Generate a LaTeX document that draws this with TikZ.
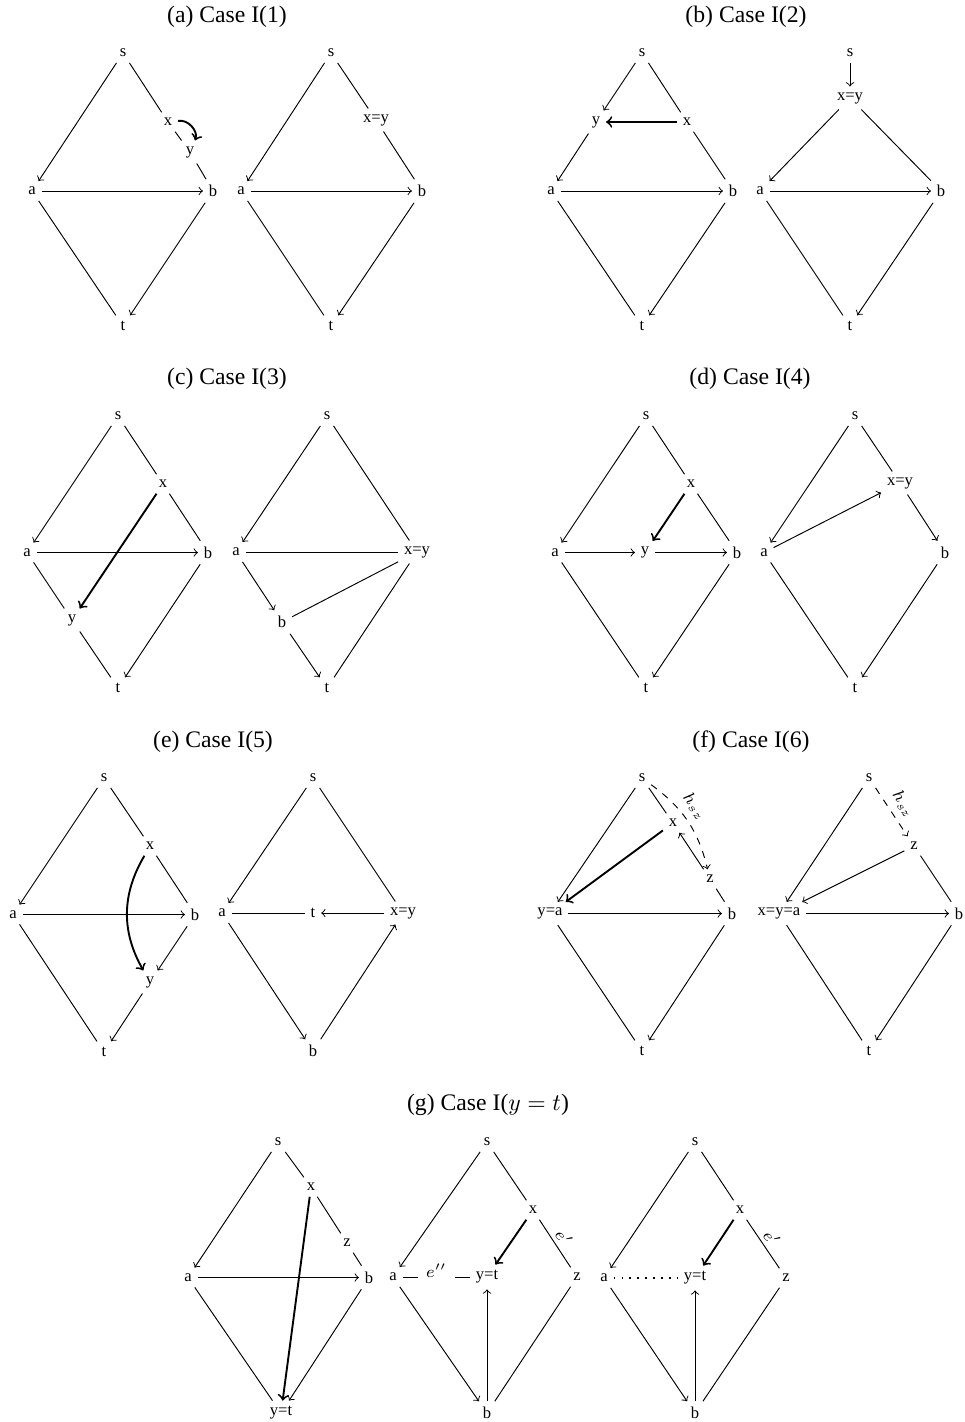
\documentclass[tikz,border=0pt]{standalone}
\usepackage{fontspec}
\setmainfont{Liberation Serif}
\begin{document}
\begin{tikzpicture}[x=0.4219pt,y=0.4219pt]
\tikzset{
  vtx/.style={font=\fontsize{7}{8}\selectfont, inner sep=2.3pt},
  ar/.style={->},
  tk/.style={->, thick},
  captxt/.style={font=\fontsize{10}{12}\selectfont, inner sep=0pt},
  lbl/.style={font=\fontsize{7}{8}\selectfont, inner sep=1.5pt},
}
\useasboundingbox (0,0) rectangle (964,-1422);

% captions
\node[captxt] (capa) at (227,-17) {(a) Case I(1)};
\node[captxt] (capb) at (746,-17) {(b) Case I(2)};
\node[captxt] (capc) at (227,-379) {(c) Case I(3)};
\node[captxt] (capd) at (750,-379) {(d) Case I(4)};
\node[captxt] (cape) at (213,-742) {(e) Case I(5)};
\node[captxt] (capf) at (751,-742) {(f) Case I(6)};
\node[captxt] (capg) at (488,-1105) {(g) Case I($y=t$)};

% ---------- (a) left
\node[vtx] (a1s) at (123,-53) {s};
\node[vtx] (a1x) at (168,-122) {x};
\node[vtx] (a1y) at (190,-152) {y};
\node[vtx] (a1a) at (32,-191) {a};
\node[vtx] (a1b) at (213,-191) {b};
\node[vtx] (a1t) at (123,-326) {t};
\draw[ar] (a1s) -- (a1a);
\draw (a1s) -- (a1x);
\draw (a1x) -- (a1y);
\draw (a1y) -- (a1b);
\draw[ar] (a1a) -- (a1b);
\draw (a1a) -- (a1t);
\draw[ar] (a1b) -- (a1t);
\draw[tk] (a1x) to[bend left=60] (a1y);
% ---------- (a) right
\node[vtx] (a2s) at (331,-53) {s};
\node[vtx] (a2xy) at (376,-120) {x=y};
\node[vtx] (a2a) at (241,-191) {a};
\node[vtx] (a2b) at (422,-191) {b};
\node[vtx] (a2t) at (331,-326) {t};
\draw[ar] (a2s) -- (a2a);
\draw (a2s) -- (a2xy);
\draw (a2xy) -- (a2b);
\draw[ar] (a2a) -- (a2b);
\draw (a2a) -- (a2t);
\draw[ar] (a2b) -- (a2t);

% ---------- (b) left
\node[vtx] (b1s) at (642,-53) {s};
\node[vtx] (b1y) at (596,-122) {y};
\node[vtx] (b1x) at (687,-122) {x};
\node[vtx] (b1a) at (551,-191) {a};
\node[vtx] (b1b) at (733,-191) {b};
\node[vtx] (b1t) at (642,-326) {t};
\draw[ar] (b1s) -- (b1y);
\draw (b1s) -- (b1x);
\draw[tk] (b1x) -- (b1y);
\draw[ar] (b1y) -- (b1a);
\draw (b1x) -- (b1b);
\draw[ar] (b1a) -- (b1b);
\draw (b1a) -- (b1t);
\draw[ar] (b1b) -- (b1t);
% ---------- (b) right
\node[vtx] (b2s) at (850,-53) {s};
\node[vtx] (b2xy) at (850,-98) {x=y};
\node[vtx] (b2a) at (760,-191) {a};
\node[vtx] (b2b) at (941,-191) {b};
\node[vtx] (b2t) at (850,-326) {t};
\draw[ar] (b2s) -- (b2xy);
\draw[ar] (b2xy) -- (b2a);
\draw (b2xy) -- (b2b);
\draw[ar] (b2a) -- (b2b);
\draw (b2a) -- (b2t);
\draw[ar] (b2b) -- (b2t);

% ---------- (c) left
\node[vtx] (c1s) at (118,-416) {s};
\node[vtx] (c1x) at (163,-484) {x};
\node[vtx] (c1a) at (27,-552.5) {a};
\node[vtx] (c1b) at (208,-552.5) {b};
\node[vtx] (c1y) at (72,-620) {y};
\node[vtx] (c1t) at (118,-688) {t};
\draw[ar] (c1s) -- (c1a);
\draw (c1s) -- (c1x);
\draw (c1x) -- (c1b);
\draw[ar] (c1a) -- (c1b);
\draw[tk] (c1x) -- (c1y);
\draw (c1a) -- (c1y);
\draw (c1y) -- (c1t);
\draw[ar] (c1b) -- (c1t);
% ---------- (c) right
\node[vtx] (c2s) at (327,-416) {s};
\node[vtx] (c2a) at (236,-552) {a};
\node[vtx] (c2xy) at (417,-552) {x=y};
\node[vtx] (c2b) at (282,-622) {b};
\node[vtx] (c2t) at (327,-688) {t};
\draw[ar] (c2s) -- (c2a);
\draw (c2s) -- (c2xy);
\draw (c2a) -- (c2xy);
\draw[ar] (c2a) -- (c2b);
\draw (c2b) -- (c2xy);
\draw[ar] (c2b) -- (c2t);
\draw (c2xy) -- (c2t);

% ---------- (d) left
\node[vtx] (d1s) at (646,-416) {s};
\node[vtx] (d1x) at (691,-484) {x};
\node[vtx] (d1a) at (555,-552.5) {a};
\node[vtx] (d1y) at (645,-552.5) {y};
\node[vtx] (d1b) at (737,-552.5) {b};
\node[vtx] (d1t) at (646,-688) {t};
\draw[ar] (d1s) -- (d1a);
\draw (d1s) -- (d1x);
\draw (d1x) -- (d1b);
\draw[tk] (d1x) -- (d1y);
\draw[ar] (d1a) -- (d1y);
\draw[ar] (d1y) -- (d1b);
\draw (d1a) -- (d1t);
\draw[ar] (d1b) -- (d1t);
% ---------- (d) right
\node[vtx] (d2s) at (855,-416) {s};
\node[vtx] (d2xy) at (900,-483) {x=y};
\node[vtx] (d2a) at (764,-552.5) {a};
\node[vtx] (d2b) at (945,-552.5) {b};
\node[vtx] (d2t) at (855,-688) {t};
\draw[ar] (d2s) -- (d2a);
\draw (d2s) -- (d2xy);
\draw[ar] (d2a) -- (d2xy);
\draw[ar] (d2xy) -- (d2b);
\draw (d2a) -- (d2t);
\draw[ar] (d2b) -- (d2t);

% ---------- (e) left
\node[vtx] (e1s) at (104,-778) {s};
\node[vtx] (e1x) at (150,-846) {x};
\node[vtx] (e1a) at (13,-914.5) {a};
\node[vtx] (e1b) at (195,-914.5) {b};
\node[vtx] (e1y) at (150,-982) {y};
\node[vtx] (e1t) at (104,-1052) {t};
\draw[ar] (e1s) -- (e1a);
\draw (e1s) -- (e1x);
\draw (e1x) -- (e1b);
\draw[ar] (e1a) -- (e1b);
\draw[ar] (e1b) -- (e1y);
\draw[ar] (e1y) -- (e1t);
\draw (e1a) -- (e1t);
\draw[tk] (e1x) to[bend right=30] (e1y);
% ---------- (e) right
\node[vtx] (e2s) at (313,-778) {s};
\node[vtx] (e2a) at (222,-913) {a};
\node[vtx] (e2t) at (313,-913) {t};
\node[vtx] (e2xy) at (403,-913) {x=y};
\node[vtx] (e2b) at (313,-1051) {b};
\draw[ar] (e2s) -- (e2a);
\draw (e2s) -- (e2xy);
\draw[ar] (e2xy) -- (e2t);
\draw (e2t) -- (e2a);
\draw[ar] (e2a) -- (e2b);
\draw[ar] (e2b) -- (e2xy);

% ---------- (f) left
\node[vtx] (f1s) at (642,-778) {s};
\node[vtx] (f1x) at (673,-823) {x};
\node[vtx] (f1z) at (710,-879) {z};
\node[vtx] (f1ya) at (550,-913.5) {y=a};
\node[vtx] (f1b) at (732,-913.5) {b};
\node[vtx] (f1t) at (642,-1051) {t};
\draw[ar] (f1s) -- (f1ya);
\draw (f1s) -- (f1x);
\draw[ar] (f1z) -- (f1x);
\draw (f1z) -- (f1b);
\draw[tk] (f1x) -- (f1ya);
\draw[ar] (f1ya) -- (f1b);
\draw (f1ya) -- (f1t);
\draw[ar] (f1b) -- (f1t);
\draw[ar,dashed] (f1s) to[bend left=20] node[lbl,above=1.5pt,sloped,pos=0.42] {$h_{sz}$} (f1z);
% ---------- (f) right
\node[vtx] (f2s) at (869,-778) {s};
\node[vtx] (f2z) at (914,-846) {z};
\node[vtx] (f2xya) at (779,-913.5) {x=y=a};
\node[vtx] (f2b) at (959,-913.5) {b};
\node[vtx] (f2t) at (869,-1051) {t};
\draw[ar] (f2s) -- (f2xya);
\draw[ar,dashed] (f2s) -- node[lbl,above=1.5pt,sloped] {$h_{sz}$} (f2z);
\draw[ar] (f2z) -- (f2xya);
\draw (f2z) -- (f2b);
\draw[ar] (f2xya) -- (f2b);
\draw (f2xya) -- (f2t);
\draw[ar] (f2b) -- (f2t);

% ---------- (g) left
\node[vtx] (g1s) at (278,-1142) {s};
\node[vtx] (g1x) at (311,-1187) {x};
\node[vtx] (g1z) at (347,-1243) {z};
\node[vtx] (g1a) at (188,-1277.5) {a};
\node[vtx] (g1b) at (369,-1277.5) {b};
\node[vtx] (g1yt) at (281,-1413) {y=t};
\draw[ar] (g1s) -- (g1a);
\draw (g1s) -- (g1x);
\draw (g1x) -- (g1z);
\draw (g1z) -- (g1b);
\draw[ar] (g1a) -- (g1b);
\draw (g1a) -- (g1yt);
\draw[ar] (g1b) -- (g1yt);
\draw[tk] (g1x) -- (g1yt);
% ---------- (g) middle
\node[vtx] (g2s) at (487,-1142) {s};
\node[vtx] (g2x) at (533,-1210) {x};
\node[vtx] (g2a) at (393,-1277) {a};
\node[vtx] (g2yt) at (487,-1277) {y=t};
\node[vtx] (g2z) at (577,-1277) {z};
\node[vtx] (g2b) at (487,-1413) {b};
\draw[ar] (g2s) -- (g2a);
\draw (g2s) -- (g2x);
\draw (g2x) -- node[lbl,above,sloped] {$e'$} (g2z);
\draw[tk] (g2x) -- (g2yt);
\draw (g2a) -- node[lbl,fill=white,inner xsep=3.5pt,yshift=2.5pt] {$e''$} (g2yt);
\draw[ar] (g2a) -- (g2b);
\draw[ar] (g2b) -- (g2yt);
\draw (g2z) -- (g2b);
% ---------- (g) right
\node[vtx] (g3s) at (695,-1142) {s};
\node[vtx] (g3x) at (740,-1210) {x};
\node[vtx] (g3a) at (604,-1278) {a};
\node[vtx] (g3yt) at (695,-1278) {y=t};
\node[vtx] (g3z) at (786,-1278) {z};
\node[vtx] (g3b) at (695,-1413) {b};
\draw[ar] (g3s) -- (g3a);
\draw (g3s) -- (g3x);
\draw (g3x) -- node[lbl,above,sloped] {$e'$} (g3z);
\draw[tk] (g3x) -- (g3yt);
\draw[line width=0.75pt,dash pattern=on 0.75pt off 2.6pt] (g3a) -- (g3yt);
\draw[ar] (g3a) -- (g3b);
\draw[ar] (g3b) -- (g3yt);
\draw (g3z) -- (g3b);
\end{tikzpicture}
\end{document}
